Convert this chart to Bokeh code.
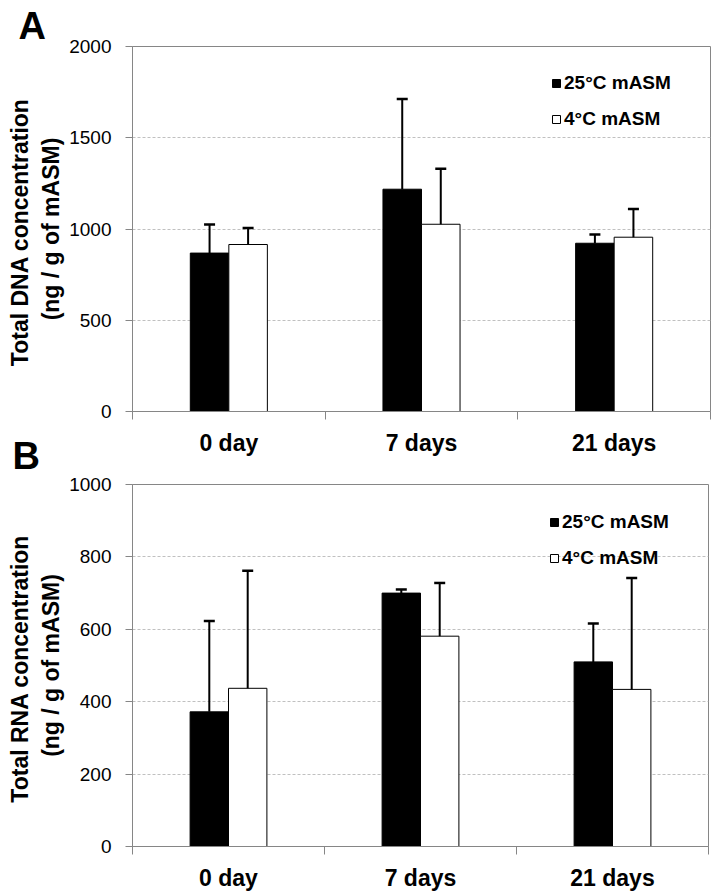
from bokeh.plotting import figure
from bokeh.models import (ColumnDataSource, Range1d, FixedTicker, Whisker, TeeHead,
                          Legend, LegendItem)
from bokeh.layouts import column
from bokeh.embed import file_html
from bokeh.resources import INLINE

categories = ["0 day", "7 days", "21 days"]
series_names = ["25°C mASM", "4°C mASM"]

dna_25 = [868, 1218, 922]
dna_25_err = [157, 495, 48]
dna_4 = [915, 1026, 955]
dna_4_err = [91, 304, 155]

rna_25 = [372, 700, 510]
rna_25_err = [251, 10, 106]
rna_4 = [437, 581, 434]
rna_4_err = [325, 147, 308]

dna_ticks = [0, 500, 1000, 1500, 2000]
rna_ticks = [0, 200, 400, 600, 800, 1000]

FONT = "Liberation Sans"
GRAY = "#868686"


def make_panel(letter, ylabel, s25, e25, s4, e4, yticks, frame_w, frame_h,
               left, top, right, legend_x, legend_top, title_standoff):
    n = len(categories)
    p = figure(frame_width=frame_w, frame_height=frame_h,
               x_range=Range1d(0, n), y_range=Range1d(yticks[0], yticks[-1]),
               output_backend="svg", toolbar_location=None,
               min_border_left=left, min_border_top=top,
               min_border_right=right, min_border_bottom=0,
               background_fill_color="white", border_fill_color="white",
               outline_line_color=GRAY, outline_line_width=1)

    centers = [i + 0.5 for i in range(n)]
    half = 0.1
    bw = 0.2
    src25 = ColumnDataSource(dict(x=[c - half for c in centers], top=s25,
                                  upper=[v + e for v, e in zip(s25, e25)]))
    src4 = ColumnDataSource(dict(x=[c + half for c in centers], top=s4,
                                 upper=[v + e for v, e in zip(s4, e4)]))

    for src in (src25, src4):
        w = Whisker(source=src, base="x", lower="top", upper="upper",
                    dimension="height", line_color="black", line_width=2,
                    lower_head=None,
                    upper_head=TeeHead(size=11, line_color="black", line_width=2.5),
                    level="glyph")
        p.add_layout(w)

    r25 = p.vbar(x="x", top="top", bottom=0, width=bw, source=src25,
                 fill_color="black", line_color="black", line_width=1)
    r4 = p.vbar(x="x", top="top", bottom=0, width=bw, source=src4,
                fill_color="white", line_color="black", line_width=1)

    # y axis
    p.yaxis.ticker = FixedTicker(ticks=yticks, minor_ticks=[])
    p.yaxis.axis_line_color = GRAY
    p.yaxis.major_tick_line_color = GRAY
    p.yaxis.major_tick_out = 7
    p.yaxis.major_tick_in = 0
    p.yaxis.minor_tick_line_color = None
    p.yaxis.major_label_text_font = FONT
    p.yaxis.major_label_text_font_size = "19px"
    p.yaxis.major_label_text_color = "black"
    p.yaxis.major_label_standoff = 14
    p.yaxis.axis_label = ylabel
    p.yaxis.axis_label_text_font = FONT
    p.yaxis.axis_label_text_font_size = "23px"
    p.yaxis.axis_label_text_font_style = "bold"
    p.yaxis.axis_label_text_color = "black"
    p.yaxis.axis_label_standoff = 2

    # x axis: labels at category centres, tick marks at category boundaries
    p.xaxis.ticker = FixedTicker(ticks=centers, minor_ticks=list(range(n + 1)))
    p.xaxis.major_label_overrides = {c: cat for c, cat in zip(centers, categories)}
    p.xaxis.axis_line_color = GRAY
    p.xaxis.major_tick_line_color = None
    p.xaxis.major_tick_out = 0
    p.xaxis.major_tick_in = 0
    p.xaxis.minor_tick_line_color = GRAY
    p.xaxis.minor_tick_out = 8
    p.xaxis.minor_tick_in = 0
    p.xaxis.major_label_text_font = FONT
    p.xaxis.major_label_text_font_size = "23px"
    p.xaxis.major_label_text_font_style = "bold"
    p.xaxis.major_label_text_color = "black"
    p.xaxis.major_label_standoff = 10

    p.xgrid.grid_line_color = None
    p.ygrid.ticker = FixedTicker(ticks=yticks[1:-1])
    p.ygrid.grid_line_color = "#c0c0c0"
    p.ygrid.grid_line_dash = "3 2"
    p.ygrid.grid_line_width = 1

    label_h = 24
    spacing = 12
    leg_h = 2 * label_h + spacing
    legend = Legend(items=[LegendItem(label=series_names[0], renderers=[r25]),
                           LegendItem(label=series_names[1], renderers=[r4])],
                    location=(legend_x, frame_h - legend_top - leg_h),
                    glyph_width=10, glyph_height=10, label_height=label_h,
                    label_standoff=3, spacing=spacing, padding=0, margin=0,
                    label_text_font=FONT, label_text_font_size="19px",
                    label_text_font_style="bold", label_text_color="black",
                    background_fill_alpha=0, border_line_color=None)
    p.add_layout(legend)

    # panel letter as the figure title, shifted to the left edge
    p.title.text = letter
    p.title.align = "left"
    p.title.offset = -(left - 12)
    p.title.standoff = title_standoff
    p.title.text_font = FONT
    p.title.text_font_size = "38px"
    p.title.text_font_style = "bold"
    p.title.text_color = "black"
    return p


pa = make_panel("A", "Total DNA  concentration\n(ng / g of mASM)",
                dna_25, dna_25_err, dna_4, dna_4_err, dna_ticks,
                frame_w=578, frame_h=365, left=126, top=46, right=10,
                legend_x=419, legend_top=25, title_standoff=0)
pb = make_panel("B", "Total RNA  concentration\n(ng / g of mASM)",
                rna_25, rna_25_err, rna_4, rna_4_err, rna_ticks,
                frame_w=576, frame_h=362, left=132, top=26, right=6,
                legend_x=417, legend_top=26, title_standoff=16)
# let panel B's letter sit beside panel A's category labels, as in the original
pb.border_fill_alpha = 0
pb.margin = (-34, 0, 0, 0)

layout = column(pa, pb, spacing=0)
open("out.html", "w").write(file_html(layout, INLINE))
